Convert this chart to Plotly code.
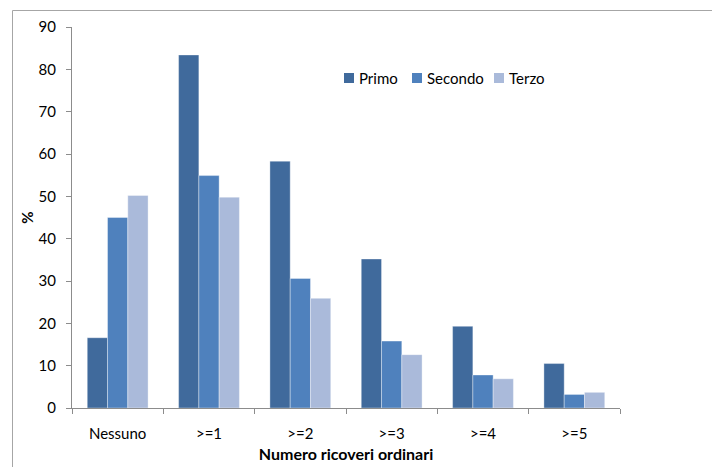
import plotly.graph_objects as go

categories = ["Nessuno", ">=1", ">=2", ">=3", ">=4", ">=5"]
primo = [16.6, 83.4, 58.3, 35.2, 19.3, 10.5]
secondo = [45.0, 54.9, 30.6, 15.8, 7.8, 3.2]
terzo = [50.2, 49.8, 25.9, 12.6, 6.9, 3.7]
y_ticks = [0, 10, 20, 30, 40, 50, 60, 70, 80, 90]
series_names = ["Primo", "Secondo", "Terzo"]
series_colors = ["#406A9C", "#4F81BD", "#AABADA"]

FONT = "Lato, 'Open Sans', sans-serif"
FS = 15

fig = go.Figure()
for name, vals, col in zip(series_names, [primo, secondo, terzo], series_colors):
    fig.add_trace(go.Bar(
        x=categories, y=vals, name=name, showlegend=False,
        marker=dict(color=col, line=dict(color="rgba(255,255,255,0.45)", width=0.8)),
    ))

W, H = 712, 467
L, R, T, B = 72, 92, 27, 59
pw, ph = W - L - R, H - T - B

def px_x(p):
    return (p - L) / pw

def px_y(p):
    return (H - B - p) / ph

# manual legend (square + label), positions in pixels
leg_sq_x = [344, 412, 494]
leg_y = 78
shapes = [
    dict(type="line", xref="paper", yref="paper", x0=px_x(12.5), x1=px_x(760), y0=px_y(10.5), y1=px_y(10.5),
         line=dict(color="#A6A6A6", width=1)),
    dict(type="line", xref="paper", yref="paper", x0=px_x(12.5), x1=px_x(12.5), y0=px_y(10.5), y1=px_y(520),
         line=dict(color="#A6A6A6", width=1)),
]
annotations = []
for name, col, sx in zip(series_names, series_colors, leg_sq_x):
    shapes.append(dict(type="rect", xref="paper", yref="paper",
                       x0=px_x(sx), x1=px_x(sx + 10), y0=px_y(leg_y - 5), y1=px_y(leg_y + 5),
                       fillcolor=col, line=dict(width=0)))
    annotations.append(dict(text=name, xref="paper", yref="paper", x=px_x(sx + 13), y=px_y(leg_y),
                            xanchor="left", yanchor="middle", showarrow=False,
                            font=dict(size=FS, family=FONT, color="#000000")))

fig.update_layout(
    width=W, height=H,
    margin=dict(l=L, r=R, t=T, b=B, autoexpand=False),
    paper_bgcolor="white", plot_bgcolor="white",
    barmode="group", bargap=0.334, bargroupgap=0,
    font=dict(family=FONT, size=FS, color="#000000"),
    showlegend=False,
    xaxis=dict(
        automargin=False,
        showline=True, linecolor="#8C8C8C", linewidth=1,
        ticks="outside", ticklen=5, tickcolor="#8C8C8C", tickson="boundaries",
        ticklabelstandoff=12,
        showgrid=False, zeroline=False,
        title=dict(text="<b>Numero ricoveri ordinari</b>", font=dict(size=16, family=FONT), standoff=7),
        tickfont=dict(size=FS, family=FONT),
    ),
    yaxis=dict(
        automargin=False,
        range=[0, 90], tickvals=y_ticks, ticktext=[str(v) for v in y_ticks],
        showline=True, linecolor="#8C8C8C", linewidth=1,
        ticks="outside", ticklen=5, tickcolor="#8C8C8C", ticklabelstandoff=7,
        showgrid=False, zeroline=False,
        title=dict(text="<b>%</b>", font=dict(size=FS, family=FONT), standoff=1),
        tickfont=dict(size=FS, family=FONT),
    ),
    shapes=shapes,
    annotations=annotations,
)

fig.write_html("out.html", config={"displayModeBar": False},
               post_script="document.body.style.margin='0';document.body.style.padding='0';")
